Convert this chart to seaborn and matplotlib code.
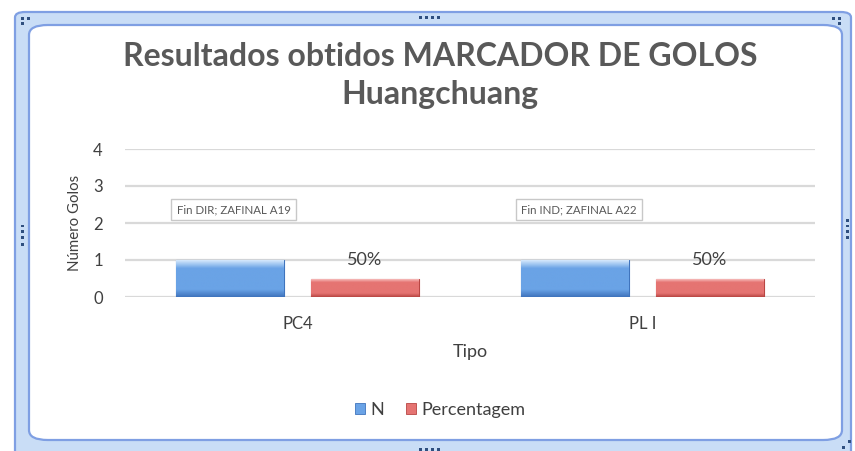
import numpy as np
import pandas as pd
import matplotlib
matplotlib.use("Agg")
import matplotlib.pyplot as plt
from matplotlib.patches import FancyBboxPatch
import seaborn as sns

# --- data -------------------------------------------------------------
categories = ["PC4", "PL I"]
n_values = [1, 1]
pct_values = [0.5, 0.5]
pct_labels = ["50%", "50%"]
n_labels = ["Fin DIR; ZAFINAL A19", "Fin IND; ZAFINAL A22"]
series_names = ["N", "Percentagem"]
y_ticks = [0, 1, 2, 3, 4]

df = pd.DataFrame({
    "Tipo": categories * 2,
    "Serie": [series_names[0]] * len(categories) + [series_names[1]] * len(categories),
    "Valor": n_values + pct_values,
})

sns.set_theme(style="white")
plt.rcParams["font.family"] = ["Lato", "DejaVu Sans"]

W, H = 855, 451
fig = plt.figure(figsize=(W / 100, H / 100), dpi=100)


def fx(x):
    return x / W


def fy(y):
    return 1 - y / H


# --- chart frame ------------------------------------------------------
outer = FancyBboxPatch((fx(15), fy(458)), fx(836), (458 - 12) / H,
                       boxstyle="round,pad=0,rounding_size=0.012",
                       transform=fig.transFigure, facecolor="#c9ddf6",
                       edgecolor="#7f9fe3", linewidth=1.6, zorder=-2)
inner = FancyBboxPatch((fx(29), fy(440)), fx(813), (440 - 25) / H,
                       boxstyle="round,pad=0,rounding_size=0.022",
                       transform=fig.transFigure, facecolor="white",
                       edgecolor="#7f9fe3", linewidth=1.6, zorder=-1)
fig.patches.extend([outer, inner])

# resize handles
handle_pts = [(22, 18), (28, 18), (22, 23),
              (833, 18), (839, 18), (839, 23),
              (420, 17), (426, 17), (432, 17), (438, 17)]
handle_pts += [(22, 226 + 6 * i) for i in range(4)]
handle_pts += [(847, 220 + 6 * i) for i in range(4)]
handle_pts += [(420, 449), (426, 449), (432, 449), (438, 449), (843, 447), (849, 441)]
for px, py in handle_pts:
    fig.patches.append(plt.Rectangle((fx(px - 1.5), fy(py + 1.5)), 3 / W, 3 / H,
                                     transform=fig.transFigure, facecolor="#2f4f7f",
                                     edgecolor="none", zorder=-0.5))

# --- axes -------------------------------------------------------------
ax = fig.add_axes([fx(125), fy(297), (815 - 125) / W, (297 - 149) / H])
ax.set_zorder(2)
ax.set_facecolor("none")

palette = {"N": "#6aa3e6", "Percentagem": "#e57472"}
edges = {"N": "#3f74bd", "Percentagem": "#b84643"}
sns.barplot(data=df, x="Tipo", y="Valor", hue="Serie", order=categories,
            hue_order=series_names, palette=palette, width=0.78, gap=0.2,
            ax=ax, legend=False, saturation=1, zorder=3)

# glossy vertical gradient on each bar (light top, darker bottom edge)
grad_tops = {"N": "#d4e8fc", "Percentagem": "#fbd0cf"}
for container, name in zip(ax.containers, series_names):
    for bar in container:
        bar.set_edgecolor(edges[name])
        bar.set_linewidth(0.8)
        x0, y0 = bar.get_x(), bar.get_y()
        w, h = bar.get_width(), bar.get_height()
        top = np.array(matplotlib.colors.to_rgb(grad_tops[name]))
        mid = np.array(matplotlib.colors.to_rgb(palette[name]))
        bot = np.array(matplotlib.colors.to_rgb(edges[name]))
        t = np.linspace(0, 1, 64)[:, None]
        col = np.where(t < 0.22, top + (mid - top) * (t / 0.22),
                       mid + (bot - mid) * np.clip((t - 0.8) / 0.2, 0, 1))
        img = np.repeat(col[:, None, :], 2, axis=1)
        im = ax.imshow(img, extent=(x0, x0 + w, y0, y0 + h), origin="upper",
                       aspect="auto", zorder=3.5, interpolation="bilinear")
        im.set_clip_path(bar)

ax.set_xlim(-0.5, 1.5)
ax.set_ylim(0, 4)
ax.set_yticks(y_ticks)
ax.set_yticklabels([str(v) for v in y_ticks])
for v in y_ticks:
    ax.axhline(v, color="#d9d9d9", linewidth=1.6, zorder=1)
for s in ax.spines.values():
    s.set_visible(False)
ax.tick_params(axis="y", length=0, pad=16, labelsize=12, labelcolor="#404040")
ax.tick_params(axis="x", length=0, pad=14, labelsize=12, labelcolor="#404040")
ax.set_xlabel("Tipo", fontsize=13, color="#404040", labelpad=8)
ax.set_ylabel("Número Golos", fontsize=10.8, color="#404040", labelpad=8)

# data labels
n_bars = list(ax.containers[0])
p_bars = list(ax.containers[1])
for bar, lab in zip(p_bars, pct_labels):
    ax.text(bar.get_x() + bar.get_width() / 2, bar.get_height() + 0.5, lab,
            ha="center", va="center", fontsize=13, color="#404040", zorder=5)
for bar, lab in zip(n_bars, n_labels):
    ax.text(bar.get_x() + bar.get_width() / 2 + 0.01, 2.36, lab,
            ha="center", va="center", fontsize=8.3, color="#595959", zorder=5,
            bbox=dict(boxstyle="square,pad=0.45", facecolor="white",
                      edgecolor="#c8c8c8", linewidth=1.0))

# --- title ------------------------------------------------------------
fig.text(fx(440), fy(56), "Resultados obtidos MARCADOR DE GOLOS",
         ha="center", va="center", fontsize=23, fontweight="bold", color="#595959")
fig.text(fx(440), fy(94), "Huangchuang",
         ha="center", va="center", fontsize=23, fontweight="bold", color="#595959")

# --- legend -----------------------------------------------------------
handles = [plt.Rectangle((0, 0), 1, 1, facecolor=palette[s], edgecolor=edges[s],
                         linewidth=0.6) for s in series_names]
fig.legend(handles, series_names, loc="center", bbox_to_anchor=(fx(440), fy(410)),
           ncol=2, frameon=False, fontsize=13, handlelength=0.55, handleheight=0.55,
           handletextpad=0.3, columnspacing=1.2, labelcolor="#404040")

fig.savefig("out.png", dpi=100)
